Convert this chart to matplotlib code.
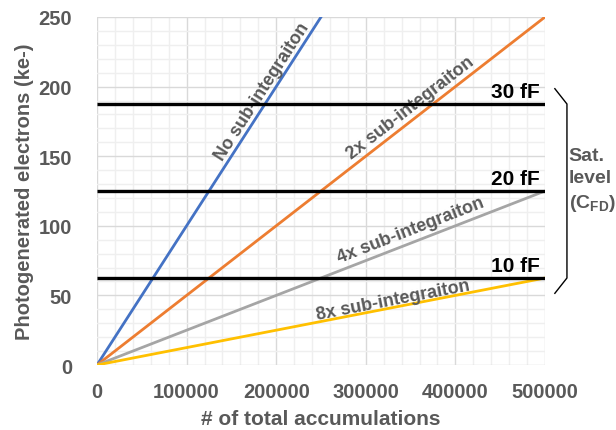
import numpy as np
import matplotlib
matplotlib.use('Agg')
import matplotlib.pyplot as plt
from matplotlib.ticker import MultipleLocator

plt.rcParams['font.family'] = ['Liberation Sans', 'DejaVu Sans']
plt.rcParams['mathtext.fontset'] = 'custom'
plt.rcParams['mathtext.rm'] = 'Liberation Sans'
plt.rcParams['mathtext.bf'] = 'Liberation Sans:bold'

# accumulation range and electrons per accumulation (ke-) for each mode
accum = [0, 500000]
modes = ['No sub-integraiton', '2x sub-integraiton', '4x sub-integraiton', '8x sub-integraiton']
slopes = [0.001, 0.0005, 0.00025, 0.000125]
colors = ['#4472C4', '#ED7D31', '#A5A5A5', '#FFC000']
# label centres (x, y) in data units
label_pos = [(184000, 197), (350000, 185), (350000, 97), (330000, 46.5)]

# saturation levels for the floating diffusion capacitances
cfd_names = ['10 fF', '20 fF', '30 fF']
cfd_levels = [62.5, 125, 187.5]

GRAY = '#595959'

fig = plt.figure(figsize=(6.16, 4.31), dpi=100)
ax = fig.add_axes([97 / 616, 1 - 366 / 431, 448 / 616, 348 / 431])

ax.set_xlim(0, 500000)
ax.set_ylim(0, 250)
ax.xaxis.set_major_locator(MultipleLocator(100000))
ax.xaxis.set_minor_locator(MultipleLocator(20000))
ax.yaxis.set_major_locator(MultipleLocator(50))
ax.yaxis.set_minor_locator(MultipleLocator(10))
ax.grid(which='minor', color='#efefef', lw=1.0, zorder=0)
ax.grid(which='major', color='#d9d9d9', lw=1.0, zorder=0)
ax.set_axisbelow(True)
for s in ax.spines.values():
    s.set_visible(False)
ax.tick_params(which='both', length=0)
ax.tick_params(axis='y', pad=18, labelsize=14.5, labelcolor=GRAY)
ax.tick_params(axis='x', pad=12, labelsize=14.5, labelcolor=GRAY)
for lbl in ax.get_xticklabels() + ax.get_yticklabels():
    lbl.set_fontweight('bold')

x = np.array(accum)
for name, k, c in zip(modes, slopes, colors):
    ax.plot(x, k * x, color=c, lw=2.0, zorder=3, solid_capstyle='butt')

for name, k, (lx, ly) in zip(modes, slopes, label_pos):
    ax.text(lx, ly, name, rotation=np.degrees(np.arctan(k)), transform_rotates_text=True,
            rotation_mode='anchor', ha='center', va='center', fontsize=13,
            fontweight='bold', color=GRAY, zorder=4)

for name, lev in zip(cfd_names, cfd_levels):
    ax.plot(accum, [lev, lev], color='black', lw=2.4, zorder=5, solid_capstyle='butt')
    ax.text(494000, lev + 2.5, name, ha='right', va='bottom', fontsize=15,
            fontweight='bold', color='black', zorder=6)

# bracket grouping the three saturation levels
bx, tip = 524500, 511000
ax.plot([tip, bx, bx, tip],
        [cfd_levels[-1] + 11, cfd_levels[-1], cfd_levels[0], cfd_levels[0] - 11],
        color='black', lw=1.0, clip_on=False)
ax.text(526500, 133, 'Sat.\nlevel\n(C$_{\\mathbf{FD}}$)', ha='left', va='center',
        fontsize=14, fontweight='bold', color=GRAY, linespacing=1.4)

ax.set_xlabel('# of total accumulations', fontsize=15, fontweight='bold', color=GRAY, labelpad=6)
ax.set_ylabel('Photogenerated electrons (ke-)', fontsize=14.5, fontweight='bold', color=GRAY, labelpad=3)

fig.savefig('out.png', dpi=100)
